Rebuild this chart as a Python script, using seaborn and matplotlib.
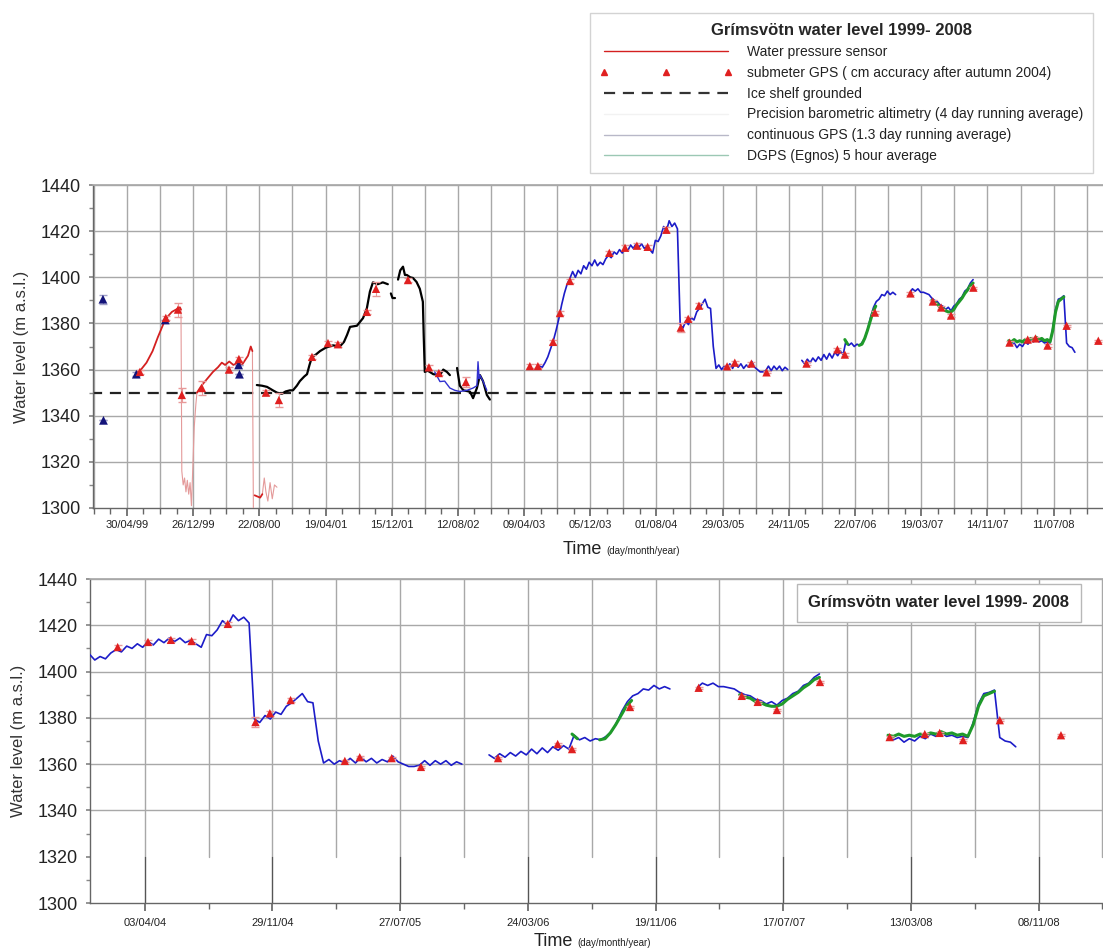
import numpy as np
import pandas as pd
import matplotlib
matplotlib.use('Agg')
import matplotlib.pyplot as plt
import matplotlib.dates as mdates
from matplotlib.lines import Line2D
from matplotlib.ticker import FixedLocator, MultipleLocator
import seaborn as sns

nan = np.nan

# ---- data (water level, m a.s.l.) ----
# water pressure sensor, solid part (nan = gap)
pressure_dates = ['1999-06-05', '1999-06-20', '1999-07-10', '1999-08-01', '1999-08-20', '1999-09-10',
                  '1999-09-25', '1999-10-10', '1999-10-25', '1999-11-08', '1999-11-12', '1999-11-14',
                  '2000-01-09', '2000-01-25', '2000-02-15', '2000-03-07', '2000-03-25', '2000-04-08',
                  '2000-04-20', '2000-05-05', '2000-05-20', '2000-06-05', '2000-06-20', '2000-07-01',
                  '2000-07-12', '2000-07-22', '2000-07-28', '2000-07-30', '2000-08-05', '2000-08-15',
                  '2000-08-25', '2000-09-02']
pressure_level = [1359, 1360, 1363, 1368, 1374, 1380,
                  1383, 1385, 1386, 1387, 1386, nan,
                  1350, 1353, 1356, 1359, 1361, 1363,
                  1362, 1363.5, 1362, 1363, 1362, 1364,
                  1366, 1370, 1368, nan, 1305.5, 1305,
                  1304.5, 1306]

# water pressure sensor, faint part (floods and sensor out of range)
pressure_faint_dates = ['1999-11-12', '1999-11-15', '1999-11-20', '1999-11-25', '1999-11-30', '1999-12-05',
                        '1999-12-10', '1999-12-15', '1999-12-20', '1999-12-25', '1999-12-30', '2000-01-05',
                        '2000-01-09', '2000-01-10', '2000-07-28', '2000-08-01', '2000-08-03', '2000-09-02',
                        '2000-09-09', '2000-09-15', '2000-09-22', '2000-09-30', '2000-10-08', '2000-10-16',
                        '2000-10-25']
pressure_faint_level = [1386, 1316, 1310, 1313, 1307, 1312,
                        1306, 1311, 1301, 1318, 1335, 1345,
                        1350, nan, 1368, 1290, nan, 1306,
                        1313, 1307, 1303, 1311, 1304, 1310,
                        1309]

# precision barometric altimetry
baro_dates = ['2000-08-13', '2000-09-01', '2000-09-19', '2000-10-10', '2000-10-25', '2000-11-12', '2000-11-25',
              '2000-12-11', '2000-12-22', '2001-01-05', '2001-01-16', '2001-02-01', '2001-02-11', '2001-02-20',
              '2001-03-01', '2001-03-15', '2001-03-30', '2001-04-20', '2001-05-16', '2001-06-10', '2001-06-25',
              '2001-07-06', '2001-07-17', '2001-08-11', '2001-09-02', '2001-09-16', '2001-09-27', '2001-10-08',
              '2001-10-25', '2001-11-13', '2001-12-01', '2001-12-08', '2001-12-12', '2001-12-18', '2001-12-27',
              '2002-01-02', '2002-01-07', '2002-01-15', '2002-01-25', '2002-02-01', '2002-02-08', '2002-02-20',
              '2002-03-02', '2002-03-15', '2002-03-27', '2002-04-07', '2002-04-10', '2002-04-14', '2002-04-25',
              '2002-05-15', '2002-06-08', '2002-06-20', '2002-07-03', '2002-07-14', '2002-07-25', '2002-08-09',
              '2002-08-19', '2002-09-01', '2002-09-25', '2002-10-06', '2002-10-20', '2002-10-31', '2002-11-11',
              '2002-11-25', '2002-12-06']
baro_level = [1353.3, 1353, 1352.5, 1351, 1350, 1349.5, 1350.5,
              1351, 1351, 1353, 1355, 1357, 1358, 1362,
              1365.5, 1366.5, 1368, 1369.5, 1370.5, 1370, 1372,
              1375, 1378.5, 1379, 1382.3, 1386.6, 1393.8, 1397.8,
              1397, 1397.8, 1397, nan, 1393, 1391, 1391,
              nan, 1399, 1403, 1404.6, 1401, 1401, 1400,
              1399.7, 1398, 1395, 1389.4, 1375, 1359, 1359.5,
              1358, 1357.6, 1360, 1359, 1357.6, nan, 1360.7,
              1353, 1351, 1350.4, 1347.6, 1352, 1357.6, 1355,
              1349, 1347]

# early GPS track 2002
gps02_dates = ['2002-05-20', '2002-06-08', '2002-06-25', '2002-07-14', '2002-08-01', '2002-08-19', '2002-09-14',
               '2002-10-06', '2002-10-20', '2002-10-24', '2002-10-28', '2002-10-31', '2002-11-11', '2002-11-25']
gps02_level = [1359, 1354.8, 1355, 1352, 1351, 1350.5, 1351,
               1352, 1353, 1363.4, 1356, 1357.6, 1355, 1351]

# continuous GPS, values read every 10 days from each start date
cgps_starts = ['2003-05-25', '2006-01-10', '2007-02-05', '2008-01-30']
cgps_a = [1361, 1361.5, 1361, 1363, 1365.5, 1369, 1372.5, 1377, 1382, 1388,
          1393, 1397, 1399.5, 1402.5, 1400, 1403, 1401.5, 1405, 1403.5, 1406.5,
          1405, 1407.5, 1405, 1406.5, 1405.5, 1408, 1409.5, 1408.5, 1411, 1410,
          1412, 1410.5, 1413, 1411.5, 1414, 1412.5, 1414.5, 1413, 1414.5, 1412.5,
          1413.5, 1412, 1410.5, 1416, 1415.5, 1418, 1422, 1420, 1424.5, 1422,
          1423.5, 1421, 1379.5, 1378, 1381, 1379.5, 1382.5, 1381.5, 1385, 1386.5,
          1388.5, 1390.5, 1387, 1386.5, 1370, 1360.5, 1362, 1360, 1361.5, 1360.5,
          1362.5, 1360.5, 1363, 1361, 1362.5, 1360.5, 1362, 1361, 1363.5, 1361,
          1360, 1359, 1359, 1359.5, 1361.5, 1359.5, 1361.5, 1360, 1361.5, 1359.5,
          1361, 1360]
cgps_b = [1364, 1362.5, 1364.5, 1363, 1365, 1363.5, 1365.5, 1364, 1366.5, 1364.5,
          1367, 1365, 1367.5, 1366, 1368, 1366.5, 1372.5, 1370.5, 1371.5, 1370,
          1371, 1370.5, 1372, 1374, 1378, 1383, 1387, 1389.5, 1390.5, 1392.5,
          1392, 1394, 1392.5, 1393.5, 1392.5]
cgps_c = [1393, 1395, 1394, 1395, 1393.5, 1393.5, 1393, 1392.5, 1391, 1390,
          1389.5, 1388, 1387.5, 1386, 1387, 1385.5, 1387.5, 1388.5, 1390.5, 1391.5,
          1394, 1395, 1397.5, 1399]
cgps_d = [1372, 1370.5, 1371.5, 1369.5, 1371, 1370, 1372, 1371, 1373, 1372,
          1373.5, 1372, 1372.5, 1371.5, 1372, 1371.5, 1378, 1386, 1390.5, 1391,
          1392, 1371.5, 1370, 1369.5, 1367.5]

# DGPS (Egnos), values every 10 days
dgps_starts = ['2006-06-15', '2006-08-06', '2007-04-26', '2008-01-30']
dgps_a = [1373, 1371]
dgps_b = [1370.5, 1371, 1373.5, 1377, 1381, 1385, 1387.5]
dgps_c = [1390, 1389, 1388.5, 1387, 1386.5, 1385.5, 1385, 1385, 1386, 1388,
          1389.5, 1391, 1393, 1394.5, 1396.5, 1397.5]
dgps_d = [1372.5, 1372, 1373, 1372, 1372.5, 1372, 1373, 1372.5, 1373.5, 1373,
          1374, 1373, 1373.5, 1372.5, 1373, 1372, 1377, 1385, 1389.5, 1390.5, 1391.5]

# submeter GPS points
gps_dates = ['1999-06-16', '1999-09-18', '1999-11-01', '1999-11-15', '2000-01-27', '2000-05-04', '2000-06-09',
             '2000-09-15', '2000-11-01', '2001-03-01', '2001-04-28', '2001-06-03', '2001-09-16', '2001-10-19',
             '2002-02-12', '2002-04-29', '2002-06-04', '2002-09-10', '2003-04-30', '2003-05-29', '2003-07-23',
             '2003-08-17', '2003-09-22', '2004-02-12', '2004-04-09', '2004-05-22', '2004-06-30', '2004-09-06',
             '2004-10-28', '2004-11-24', '2005-01-02', '2005-04-14', '2005-05-12', '2005-07-11', '2005-09-04',
             '2006-01-27', '2006-05-19', '2006-06-15', '2006-10-02', '2007-02-08', '2007-04-30', '2007-05-30',
             '2007-07-05', '2007-09-24', '2008-02-02', '2008-04-08', '2008-05-06', '2008-06-19', '2008-08-27',
             '2008-12-20']
gps_level = [1359, 1382.4, 1386, 1349, 1352, 1360, 1364.6,
             1350, 1346.8, 1365.5, 1371.5, 1371, 1385, 1395,
             1398.8, 1361, 1358.5, 1354.6, 1361.5, 1361.5, 1372,
             1384.5, 1398.4, 1410.6, 1412.8, 1413.7, 1413.2, 1420.6,
             1378.2, 1382, 1387.7, 1361.4, 1363, 1362.6, 1358.8,
             1362.6, 1368.7, 1366.5, 1384.7, 1393, 1389.5, 1386.9,
             1383.4, 1395.5, 1371.7, 1373, 1373.5, 1370.4, 1379,
             1372.5]
gps_err = [1, 1, 3, 3, 3, 1, 1,
           1, 3, 1, 1, 1, 1, 3,
           1, 1, 1, 2, 1, 1, 1,
           1, 1, 1, 1, 1, 1, 1,
           2, 1, 1, 0.5, 0.5, 0.5, 0.5,
           0.5, 0.5, 0.5, 0.5, 0.5, 0.5, 0.5,
           0.5, 0.5, 0.5, 0.5, 0.5, 0.5, 0.5,
           0.5]

# early GPS points (dark blue, not in legend)
early_dates = ['1999-02-02', '1999-02-04', '1999-06-03', '1999-09-16', '2000-06-08', '2000-06-11']
early_level = [1390.5, 1338, 1358, 1381.5, 1362, 1358]
early_err = [2, 0, 1, 0, 0, 0]

grounded_level = 1350
grounded_from, grounded_to = '1998-12-20', '2005-11-24'


def segments(dates, levels):
    df = pd.DataFrame({'date': pd.to_datetime(dates), 'level': levels})
    df['seg'] = df['level'].isna().cumsum()
    return df.dropna()


def regular(starts, series):
    parts = []
    for i, (s, vals) in enumerate(zip(starts, series)):
        parts.append(pd.DataFrame({'date': pd.date_range(s, periods=len(vals), freq='10D'),
                                   'level': vals, 'seg': i}))
    return pd.concat(parts, ignore_index=True)


red_df = segments(pressure_dates, pressure_level)
red_faint_df = segments(pressure_faint_dates, pressure_faint_level)
baro_df = segments(baro_dates, baro_level)
gps02_df = segments(gps02_dates, gps02_level)
cgps_df = regular(cgps_starts, [cgps_a, cgps_b, cgps_c, cgps_d])
dgps_df = regular(dgps_starts, [dgps_a, dgps_b, dgps_c, dgps_d])
gps_df = pd.DataFrame({'date': pd.to_datetime(gps_dates), 'level': gps_level, 'err': gps_err})
early_df = pd.DataFrame({'date': pd.to_datetime(early_dates), 'level': early_level, 'err': early_err})

RED = '#d42020'
BLUE = '#1c1cc8'
GREEN = '#1f9a2a'
NAVY = '#14147a'
GRID = '#a8a8a8'

sns.set_theme(style='white')
plt.rcParams['font.family'] = ['Liberation Sans', 'DejaVu Sans']

fig = plt.figure(figsize=(11.03, 9.5), dpi=100)
ax1 = fig.add_axes([93 / 1103, 1 - 508 / 950, 1 - 93 / 1103, 323 / 950])
ax2 = fig.add_axes([90 / 1103, 1 - 903 / 950, 1 - 90 / 1103, 324 / 950])


def line(ax, df, color, lw, z=3):
    sns.lineplot(data=df, x='date', y='level', units='seg', estimator=None, sort=False,
                 color=color, lw=lw, ax=ax, legend=False, zorder=z)


def draw_data(ax):
    line(ax, red_faint_df, '#e49a9a', 0.8)
    line(ax, red_df, RED, 1.3)
    line(ax, baro_df, 'black', 1.6)
    line(ax, gps02_df, '#3030d0', 1.0)
    line(ax, cgps_df, BLUE, 1.2)
    line(ax, dgps_df, GREEN, 2.2, z=4)
    ax.errorbar(gps_df['date'], gps_df['level'], yerr=gps_df['err'], fmt='none',
                ecolor='#e89a9a', elinewidth=0.8, capsize=3, zorder=5)
    ax.errorbar(early_df['date'], early_df['level'], yerr=early_df['err'], fmt='none',
                ecolor='#a0a0c8', elinewidth=0.8, capsize=3, zorder=5)
    sns.scatterplot(data=early_df, x='date', y='level', marker='^', s=40, color=NAVY,
                    edgecolor='none', ax=ax, legend=False, zorder=6)
    sns.scatterplot(data=gps_df, x='date', y='level', marker='^', s=36, color='#e02020',
                    edgecolor='none', ax=ax, legend=False, zorder=6)


def style_axes(ax, xlim, major, minor, grid_dates, grid_ymin, label_pad):
    ax.set_xlim(pd.Timestamp(xlim[0]), pd.Timestamp(xlim[1]))
    ax.set_ylim(1300, 1440)
    ax.set_yticks(range(1300, 1441, 20))
    ax.yaxis.set_minor_locator(MultipleLocator(10))
    ax.xaxis.set_major_locator(FixedLocator(mdates.date2num(major)))
    ax.xaxis.set_minor_locator(FixedLocator(mdates.date2num(minor)))
    ax.xaxis.set_major_formatter(mdates.DateFormatter('%d/%m/%y'))
    for d in grid_dates:
        ax.axvline(d, ymin=grid_ymin, color=GRID, lw=1, zorder=0.5)
    ax.tick_params(axis='x', which='both', bottom=True, direction='out', color='#666666',
                   labelsize=8, labelcolor='#222222', pad=label_pad)
    ax.tick_params(axis='x', which='major', length=6)
    ax.tick_params(axis='x', which='minor', length=4)
    ax.tick_params(axis='y', which='both', left=True, direction='out', color='#888888',
                   labelsize=13, labelcolor='#222222', pad=6)
    ax.tick_params(axis='y', which='major', length=3)
    ax.tick_params(axis='y', which='minor', length=3)
    ax.set_xlabel('')
    ax.set_ylabel('Water level (m a.s.l.)', fontsize=12, color='#333333', labelpad=8)
    ax.spines['right'].set_visible(False)
    for s in ['left', 'bottom']:
        ax.spines[s].set_color('#666666')
        ax.spines[s].set_linewidth(1)
    ax.spines['top'].set_color(GRID)


# ---- upper panel: 1999-2008 ----
draw_data(ax1)
ax1.plot(pd.to_datetime([grounded_from, grounded_to]), [grounded_level, grounded_level],
         color='#222222', lw=1.6, ls=(0, (5, 3.5)), zorder=2)
top_lim = ('1998-12-28', '2009-01-06')
style_axes(ax1, top_lim,
           pd.date_range('1999-04-30', top_lim[1], freq='240D'),
           pd.date_range('1998-11-01', top_lim[1], freq='60D'),
           pd.date_range('1998-12-31', top_lim[1], freq='120D'), 0, 3)
for v in range(1320, 1441, 20):
    ax1.axhline(v, color=GRID, lw=1, zorder=0.5)

# ---- lower panel: 2004-2008 ----
draw_data(ax2)
bot_lim = ('2003-12-22', '2009-03-09')
bot_major = pd.date_range('2004-04-03', bot_lim[1], freq='240D')
style_axes(ax2, bot_lim, bot_major,
           pd.date_range('2003-12-05', bot_lim[1], freq='120D'),
           pd.date_range('2003-12-05', bot_lim[1], freq='120D'), 1 / 7, 5)
for d in bot_major:
    ax2.axvline(d, ymin=0, ymax=1 / 7, color='#555555', lw=1, zorder=0.5)
for v in range(1340, 1441, 20):
    ax2.axhline(v, color=GRID, lw=1, zorder=0.5)
ax2.text(0.709, 0.926, 'Grímsvötn water level 1999- 2008', transform=ax2.transAxes,
         ha='left', va='center', fontsize=12, fontweight='bold', color='#222222', zorder=8,
         bbox=dict(boxstyle='square,pad=0.7', facecolor='white', edgecolor='#b8b8b8', lw=1))

# axis titles
fig.text(602 / 1103, 1 - 554 / 950, 'Time', ha='right', va='baseline', fontsize=13, color='#222222')
fig.text(606 / 1103, 1 - 554 / 950, '(day/month/year)', ha='left', va='baseline', fontsize=7, color='#222222')
fig.text(573 / 1103, 1 - 946 / 950, 'Time', ha='right', va='baseline', fontsize=13, color='#222222')
fig.text(577 / 1103, 1 - 946 / 950, '(day/month/year)', ha='left', va='baseline', fontsize=7, color='#222222')

# legend
handles = [
    Line2D([], [], color=RED, lw=1),
    Line2D([], [], color='#e02020', marker='^', ls='none', markersize=4),
    Line2D([], [], color='#333333', lw=1.6, ls=(0, (5, 3.5))),
    Line2D([], [], color='#f2f2f2', lw=1),
    Line2D([], [], color='#b8b8c8', lw=1),
    Line2D([], [], color='#9cc8b4', lw=1),
]
labels = ['Water pressure sensor',
          'submeter GPS ( cm accuracy after autumn 2004)',
          'Ice shelf grounded',
          'Precision barometric altimetry (4 day running average)',
          'continuous GPS (1.3 day running average)',
          'DGPS (Egnos) 5 hour average']
leg = fig.legend(handles, labels, loc='upper right', bbox_to_anchor=(1100 / 1103, 1 - 6 / 950),
                 title='Grímsvötn water level 1999- 2008',
                 title_fontproperties={'weight': 'bold', 'size': 12},
                 fontsize=10, frameon=True, fancybox=False, edgecolor='#c8c8c8',
                 handlelength=9.5, handletextpad=1.1, labelspacing=0.5, borderpad=0.7,
                 numpoints=3)
leg.get_frame().set_linewidth(1)
for t in leg.get_texts():
    t.set_color('#222222')

fig.savefig('out.png', dpi=100)
